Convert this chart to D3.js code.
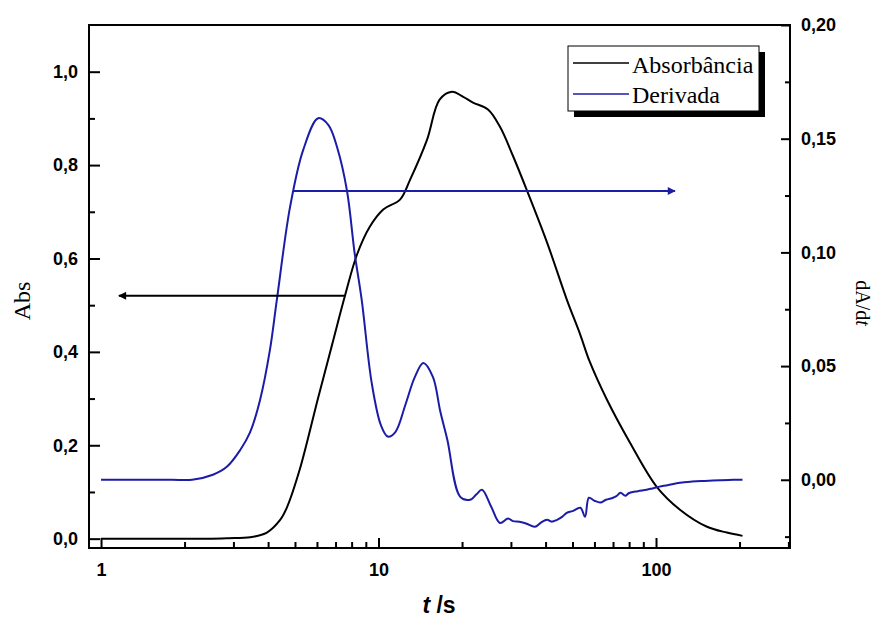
<!DOCTYPE html>
<html>
<head>
<meta charset="utf-8">
<script src="https://cdn.jsdelivr.net/npm/d3@7"></script>
<style>
  body { margin: 0; background: #fff; }
  svg { display: block; }
</style>
</head>
<body>
<div id="chart"></div>
<script>
// absorbance curve (left axis)
const absT = [1, 1.5, 2, 2.5, 2.87, 3.45, 3.96, 4.42, 4.67, 5.2, 6.06, 6.8, 7.57, 8.36, 9.3, 10.4, 11.95, 13.0, 14.95, 16.6, 18.4, 20.2, 21.9, 24.8, 27.4, 30.5, 34.2, 40.5, 47.7, 53.4, 57.6, 66.5, 80.5, 100.6, 122, 152, 180, 205]
const absV = [0, 0, 0, 0, 0.001, 0.003, 0.013, 0.04, 0.066, 0.148, 0.302, 0.415, 0.52, 0.608, 0.668, 0.705, 0.726, 0.769, 0.854, 0.94, 0.957, 0.946, 0.934, 0.919, 0.882, 0.82, 0.747, 0.634, 0.512, 0.436, 0.38, 0.298, 0.206, 0.111, 0.062, 0.026, 0.013, 0.006]

// derivative curve (right axis)
const derT = [1, 1.4, 1.8, 2.13, 2.53, 2.84, 3.17, 3.44, 3.74, 4.06, 4.3, 4.8, 5.35, 6.06, 6.6, 7.1, 7.7, 8.2, 8.7, 9.45, 10.2, 10.8, 11.5, 12.5, 13.5, 14.5, 15.7, 16.7, 17.7, 19.7, 21.4, 22.5, 23.6, 25.5, 27.4, 29.3, 30.5, 32.2, 34, 36.6, 38.5, 40.5, 42, 44, 46, 47.7, 50, 53.4, 55.5, 57.3, 60, 63, 66, 70, 72, 74.5, 77.5, 80, 86, 92.5, 97, 103, 110, 122, 135, 150, 170, 190, 205]
const derV = [0, 0, 0, 0, 0.0022, 0.0057, 0.013, 0.0207, 0.035, 0.057, 0.079, 0.12, 0.145, 0.159, 0.156, 0.146, 0.127, 0.0998, 0.079, 0.0426, 0.024, 0.019, 0.021, 0.033, 0.045, 0.0514, 0.0453, 0.030, 0.0176, -0.0075, -0.0088, -0.0065, -0.0044, -0.012, -0.019, -0.017, -0.0182, -0.0185, -0.0192, -0.0207, -0.0188, -0.0176, -0.0184, -0.0176, -0.0162, -0.0145, -0.0138, -0.0123, -0.0163, -0.0079, -0.0092, -0.010, -0.0088, -0.0079, -0.0072, -0.0057, -0.007, -0.0058, -0.005, -0.0044, -0.0038, -0.003, -0.0024, -0.0013, -0.0008, -0.0005, -0.0002, 0, 0]

const xMajor = [1, 10, 100]
const xMinor = [2, 3, 4, 5, 6, 7, 8, 9, 20, 30, 40, 50, 60, 70, 80, 90, 200, 300]
const yLeftMajor = [0, 0.2, 0.4, 0.6, 0.8, 1.0]
const yLeftMinor = [0.1, 0.3, 0.5, 0.7, 0.9]
const yRightMajor = [0, 0.05, 0.1, 0.15, 0.2]
const yRightMinor = [-0.025, 0.025, 0.075, 0.125, 0.175]

// arrows: [t, value] pairs, first = tail, second = head
const arrowAbs = [[7.57, 0.52], [1.16, 0.52]]
const arrowDer = [[4.92, 0.127], [117, 0.127]]

const legendItems = ['Absorbância', 'Derivada']

const width = 877, height = 617
const pLeft = 89, pRight = 790, pTop = 25, pBottom = 548
const blue = '#1c1ca6'

const svg = d3.select('#chart').append('svg').attr('width', width).attr('height', height)

const x = d3.scaleLog().domain([0.905, 304]).range([pLeft, pRight])
const yL = d3.scaleLinear().domain([-0.02, 1.1]).range([pBottom, pTop])
const yR = d3.scaleLinear().domain([-0.03, 0.2]).range([pBottom, pTop])

const comma = f => v => d3.format(f)(v).replace('.', ',')

// frame
svg.append('rect')
    .attr('x', pLeft).attr('y', pTop)
    .attr('width', pRight - pLeft).attr('height', pBottom - pTop)
    .attr('fill', 'none').attr('stroke', '#000').attr('stroke-width', 2)

// bottom axis
const gx = svg.append('g').attr('transform', 'translate(0,' + pBottom + ')')
    .call(d3.axisBottom(x).tickValues(xMajor).tickSize(-10).tickPadding(15).tickFormat(d3.format('d')))
gx.append('g').call(d3.axisBottom(x).tickValues(xMinor).tickSize(-6).tickFormat(''))

// left axis
const gl = svg.append('g').attr('transform', 'translate(' + pLeft + ',0)')
    .call(d3.axisLeft(yL).tickValues(yLeftMajor).tickSize(-11).tickPadding(11).tickFormat(comma('.1f')))
gl.append('g').call(d3.axisLeft(yL).tickValues(yLeftMinor).tickSize(-6).tickFormat(''))

// right axis
const gr = svg.append('g').attr('transform', 'translate(' + pRight + ',0)')
    .call(d3.axisRight(yR).tickValues(yRightMajor).tickSize(-9).tickPadding(11).tickFormat(comma('.2f')))
gr.append('g').call(d3.axisRight(yR).tickValues(yRightMinor).tickSize(-5).tickFormat(''))

svg.selectAll('.domain').remove()
svg.selectAll('.tick line').attr('stroke', '#000').attr('stroke-width', 2)
svg.selectAll('.tick text')
    .attr('fill', '#000')
    .style('font-family', 'Arial, "Liberation Sans", sans-serif')
    .style('font-size', '18px')
    .style('font-weight', 'bold')

// curves
const absData = absT.map((t, i) => [t, absV[i]])
const derData = derT.map((t, i) => [t, derV[i]])

svg.append('path')
    .datum(absData)
    .attr('fill', 'none').attr('stroke', '#000').attr('stroke-width', 2)
    .attr('d', d3.line().x(d => x(d[0])).y(d => yL(d[1])).curve(d3.curveCatmullRom.alpha(0.5)))

svg.append('path')
    .datum(derData)
    .attr('fill', 'none').attr('stroke', blue).attr('stroke-width', 2)
    .attr('d', d3.line().x(d => x(d[0])).y(d => yR(d[1])).curve(d3.curveCatmullRom.alpha(0.5)))

// arrows
const defs = svg.append('defs')
const marker = (id, col) => defs.append('marker')
    .attr('id', id).attr('viewBox', '0 0 10 10')
    .attr('refX', 9).attr('refY', 5)
    .attr('markerWidth', 5).attr('markerHeight', 4)
    .attr('orient', 'auto')
    .append('path').attr('d', 'M0,0L10,5L0,10Z').attr('fill', col)
marker('headBlack', '#000')
marker('headBlue', blue)

svg.append('line')
    .attr('x1', x(arrowAbs[0][0])).attr('y1', yL(arrowAbs[0][1]))
    .attr('x2', x(arrowAbs[1][0])).attr('y2', yL(arrowAbs[1][1]))
    .attr('stroke', '#000').attr('stroke-width', 2)
    .attr('marker-end', 'url(#headBlack)')

svg.append('line')
    .attr('x1', x(arrowDer[0][0])).attr('y1', yR(arrowDer[0][1]))
    .attr('x2', x(arrowDer[1][0])).attr('y2', yR(arrowDer[1][1]))
    .attr('stroke', blue).attr('stroke-width', 2)
    .attr('marker-end', 'url(#headBlue)')

// legend
const lg = svg.append('g').attr('transform', 'translate(568,46)')
lg.append('rect').attr('x', 6).attr('y', 6).attr('width', 191).attr('height', 65).attr('fill', '#000')
lg.append('rect').attr('width', 191).attr('height', 65).attr('fill', '#fff').attr('stroke', '#000').attr('stroke-width', 1)
lg.selectAll('line.item')
    .data(legendItems)
    .enter()
    .append('line')
    .attr('x1', 5).attr('x2', 61)
    .attr('y1', (d, i) => 17 + i * 31).attr('y2', (d, i) => 17 + i * 31)
    .attr('stroke', (d, i) => i == 0 ? '#000' : blue)
    .attr('stroke-width', 1.5)
lg.selectAll('text')
    .data(legendItems)
    .enter()
    .append('text')
    .attr('x', 64)
    .attr('y', (d, i) => 27 + i * 30)
    .style('font-family', '"Liberation Serif", "Times New Roman", serif')
    .style('font-size', '24px')
    .text(d => d)

// axis titles
svg.append('text')
    .attr('transform', 'translate(30,' + 301 + ') rotate(-90)')
    .attr('text-anchor', 'middle')
    .style('font-family', '"Liberation Serif", "Times New Roman", serif')
    .style('font-size', '24px')
    .text('Abs')

const rt = svg.append('text')
    .attr('transform', 'translate(856,' + 303 + ') rotate(90)')
    .attr('text-anchor', 'middle')
    .style('font-family', '"Liberation Serif", "Times New Roman", serif')
    .style('font-size', '20px')
rt.append('tspan').text('dA/d')
rt.append('tspan').style('font-style', 'italic').text('t')

const xt = svg.append('text')
    .attr('x', 439).attr('y', 613)
    .attr('text-anchor', 'middle')
    .style('font-family', 'Arial, "Liberation Sans", sans-serif')
    .style('font-size', '23px')
    .style('font-weight', 'bold')
xt.append('tspan').style('font-style', 'italic').text('t')
xt.append('tspan').text(' /s')
</script>
</body>
</html>
